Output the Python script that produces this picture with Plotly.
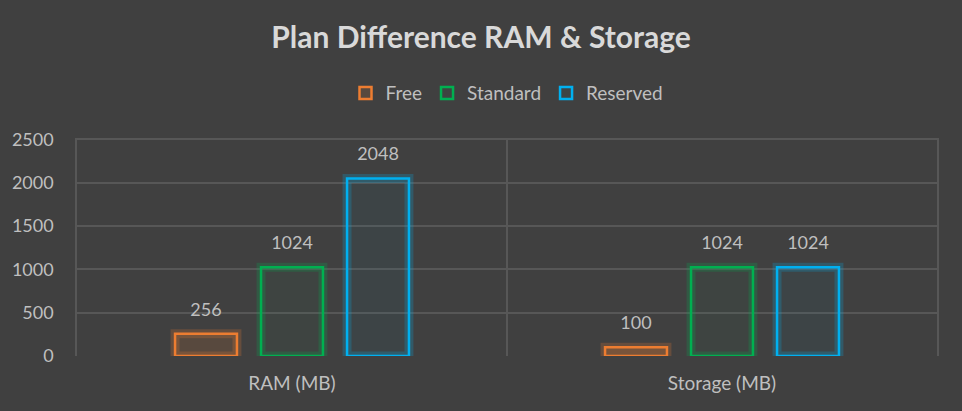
import plotly.graph_objects as go

categories = ["RAM (MB)", "Storage (MB)"]
series_names = ["Free", "Standard", "Reserved"]
free_vals = [256, 100]
standard_vals = [1024, 1024]
reserved_vals = [2048, 1024]
y_ticks = [0, 500, 1000, 1500, 2000, 2500]

colors = ["#ED7D31", "#00B050", "#00B0F0"]
rgb = ["237,125,49", "0,176,80", "0,176,240"]
fill_alpha = [0.14, 0.03, 0.04]
FONT = "Lato"
GRID = "#575757"

fig = go.Figure()
all_vals = [free_vals, standard_vals, reserved_vals]
# soft glow layer underneath each series (same offset group)
for name, vals, r in zip(series_names, all_vals, rgb):
    fig.add_trace(go.Bar(
        x=categories, y=vals, name=name, offsetgroup=name, showlegend=False,
        marker=dict(color="rgba(0,0,0,0)", line=dict(color=f"rgba({r},0.22)", width=9)),
        hoverinfo="skip", cliponaxis=False,
    ))
for name, vals, c, r, a in zip(series_names, all_vals, colors, rgb, fill_alpha):
    fig.add_trace(go.Bar(
        x=categories, y=vals, name=name, offsetgroup=name,
        marker=dict(color=f"rgba({r},{a})", line=dict(color=c, width=2.5)),
        text=[f"<span style='font-size:18px'>{v}</span><br>\u00a0" for v in vals],
        textposition="outside", constraintext="none",
        textfont=dict(color="#bfbfbf", size=10, family=FONT),
        cliponaxis=False,
    ))

fig.update_layout(
    width=962, height=411,
    paper_bgcolor="#404040", plot_bgcolor="#404040",
    margin=dict(l=74, r=25, t=138, b=55),
    barmode="group", bargap=0.4, bargroupgap=0.28,
    title=dict(text="<b>Plan Difference RAM & Storage</b>", x=0.5, xanchor="center",
               y=0.908, yanchor="middle",
               font=dict(family=FONT, size=30, color="#d9d9d9")),
    legend=dict(orientation="h", x=0.5, xanchor="center", y=1.206, yanchor="middle",
                font=dict(family=FONT, size=19, color="#bfbfbf"),
                bgcolor="rgba(0,0,0,0)", itemwidth=30, traceorder="normal"),
    font=dict(family=FONT, color="#bfbfbf"),
    showlegend=True,
)
fig.update_xaxes(
    tickson="boundaries", showgrid=True, gridcolor=GRID, gridwidth=1.5,
    ticks="", tickfont=dict(size=19, color="#bfbfbf", family=FONT),
    showline=False, zeroline=False, ticklabelstandoff=14,
)
fig.update_yaxes(
    range=[0, 2515], tickvals=y_ticks, showgrid=True, gridcolor=GRID, gridwidth=1.5,
    zeroline=False, showline=True, mirror=True, linecolor=GRID, linewidth=1.5, ticks="",
    tickfont=dict(size=18, color="#bfbfbf", family=FONT), ticklabelstandoff=18,
)

fig.write_html("out.html")
